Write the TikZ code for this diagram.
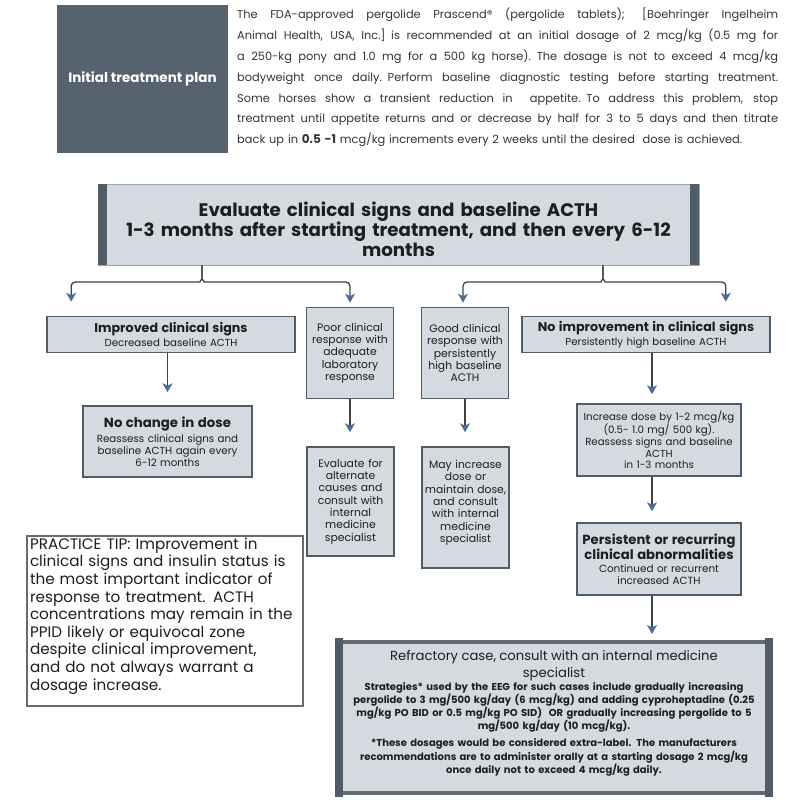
\documentclass[tikz,border=0pt]{standalone}
\usepackage{fontspec}
\setmainfont{Poppins}
\usepackage{xcolor}
\definecolor{planslate}{HTML}{56636F}
\definecolor{boxfill}{HTML}{D4DAE0}
\definecolor{boxedge}{HTML}{505C67}
\definecolor{tipblue}{HTML}{4D6C9E}
\definecolor{linegray}{HTML}{3E4348}
\definecolor{textdark}{HTML}{1E1E1E}
\usetikzlibrary{arrows.meta}
\newcommand{\parline}[1]{{\spaceskip=\fontdimen2\font plus 2em\relax\makebox[541pt][s]{#1}}}
\tikzset{
  flowbox/.style={
    rectangle, draw=boxedge, line width=1.6pt, fill=boxfill,
    align=center, inner sep=1pt, text=textdark,
    font=\fontsize{10.2}{12}\selectfont
  },
  widebox/.style={flowbox, minimum width=248pt, minimum height=36pt, text width=244pt},
  narrowbox/.style={flowbox, minimum width=87pt, text width=85pt,
    font=\fontsize{10.8}{12.3}\selectfont},
  stepbox/.style={flowbox, minimum width=164pt, minimum height=72pt, text width=160pt},
  flowarrow/.style={
    draw=linegray, line width=1.3pt,
    -{Stealth[length=9pt,width=10pt,inset=2.5pt,color=tipblue]}
  },
  brace/.style={flowarrow, rounded corners=4pt}
}

\begin{document}
\begin{tikzpicture}[x=1pt,y=-1pt]
  \useasboundingbox (0,0) rectangle (800,800);
  \fill[white] (0,0) rectangle (800,800);

  % Initial plan header
  \node[fill=planslate, minimum width=171pt, minimum height=148pt,
        text=white, font=\fontsize{13.5}{15}\selectfont\bfseries] (plan) at (142.5,79)
  {Initial treatment plan};

  \node[anchor=north west, inner sep=0pt, text width=541pt, align=left,
        text=textdark!90, font=\fontsize{11.4}{20.8}\selectfont] (intro) at (237,8)
  {\parline{The FDA-approved pergolide Prascend® (pergolide tablets); [Boehringer Ingelheim}\\
   \parline{Animal Health, USA, Inc.] is recommended at an initial dosage of 2 mcg/kg (0.5 mg for}\\
   \parline{a 250-kg pony and 1.0 mg for a 500 kg horse). The dosage is not to exceed 4 mcg/kg}\\
   \parline{bodyweight once daily. Perform baseline diagnostic testing before starting treatment.}\\
   \parline{Some horses show a transient reduction in \ appetite. To address this problem, stop}\\
   \parline{treatment until appetite returns and or decrease by half for 3 to 5 days and then titrate}\\
   back up in {\bfseries\fontsize{12}{20.8}\selectfont 0.5 -1} mcg/kg increments every 2 weeks until the desired \ dose is achieved.};

  % Evaluate box
  \node[flowbox, draw=boxedge!55, line width=0.8pt, minimum width=601pt,
        minimum height=81pt, text width=590pt,
        font=\fontsize{18.2}{20}\selectfont\bfseries] (eval) at (398.5,224.5)
  {\rule{0pt}{25pt}Evaluate clinical signs and baseline ACTH\\
   1-3 months after starting treatment, and then every 6-12\\
   months};
  \fill[boxedge] (eval.north west) rectangle ([xshift=9pt]eval.south west);
  \fill[boxedge] (eval.north east) rectangle ([xshift=-9pt]eval.south east);

  % First row
  \node[widebox] (improved) at (171,334.5)
  {{\fontsize{12.7}{12}\selectfont\bfseries Improved clinical signs}\\[2pt]
   Decreased baseline ACTH};

  \node[narrowbox, minimum height=91pt] (poorresp) at (350,353)
  {Poor clinical\\ response with\\ adequate\\ laboratory\\ response};

  \node[narrowbox, minimum height=91pt] (goodresp) at (465,353)
  {Good clinical\\ response with\\ persistently\\ high baseline\\ ACTH};

  \node[widebox] (noimprov) at (646,334.5)
  {{\fontsize{12.7}{12}\selectfont\bfseries No improvement in clinical signs}\\[2pt]
   Persistently high baseline ACTH};

  % Second row
  \node[flowbox, minimum width=169pt, minimum height=71pt, text width=165pt,
        font=\fontsize{10.3}{12}\selectfont] (nochange) at (167.5,441.5)
  {{\fontsize{13.3}{12}\selectfont\bfseries No change in dose}\\[3pt]
   Reassess clinical signs and\\ baseline ACTH again every\\ 6-12 months};

  \node[narrowbox, minimum height=109pt] (altcause) at (350.5,501.5)
  {Evaluate for\\ alternate\\ causes and\\ consult with\\ internal\\ medicine\\ specialist};

  \node[narrowbox, minimum height=121pt] (mayinc) at (465.5,507.5)
  {May increase\\ dose or\\ maintain dose,\\ and consult\\ with internal\\ medicine\\ specialist\\ \mbox{}};

  \node[stepbox, font=\fontsize{10.2}{11.7}\selectfont] (incdose) at (659,440)
  {Increase dose by 1-2 mcg/kg\\ (0.5- 1.0 mg/ 500 kg).\\ Reassess signs and baseline\\ ACTH\\ in 1-3 months};

  \node[stepbox, font=\fontsize{10.4}{12}\selectfont] (persist) at (659,559)
  {{\fontsize{13.2}{17}\selectfont\bfseries Persistent or recurring\\ clinical abnormalities}\\[1pt]
   Continued or recurrent\\ increased ACTH};

  % Refractory box
  \node[flowbox, draw=boxedge!90, line width=4pt, minimum width=430pt,
        minimum height=151pt, text width=416pt,
        font=\fontsize{10}{11.5}\selectfont\bfseries] (refract) at (554,717.5)
  {{\fontsize{13.2}{15}\mdseries\selectfont Refractory case, consult with an internal medicine\\[2.5pt] specialist}\\[1.5pt]
   Strategies* used by the EEG for such cases include gradually increasing\\
   pergolide to 3 mg/500 kg/day (6 mcg/kg) and adding cyproheptadine (0.25\\
   mg/kg PO BID or 0.5 mg/kg PO SID) \ OR gradually increasing pergolide to 5\\
   mg/500 kg/day (10 mcg/kg).\\[5.5pt]
   *These dosages would be considered extra-label. The manufacturers\\
   recommendations are to administer orally at a starting dosage 2 mcg/kg\\
   once daily not to exceed 4 mcg/kg daily.\\ \mbox{}};
  \fill[boxedge] ([xshift=-2pt,yshift=2pt]refract.north west) rectangle ([xshift=6pt,yshift=-2pt]refract.south west);
  \fill[boxedge] ([xshift=2pt,yshift=2pt]refract.north east) rectangle ([xshift=-6pt,yshift=-2pt]refract.south east);

  % Practice tip
  \node[draw=boxedge!90, line width=1.5pt, fill=white, minimum width=276pt,
        minimum height=168pt, text width=270pt, align=left, inner sep=2pt,
        text=textdark, font=\fontsize{15.2}{17.6}\selectfont] (tip) at (165,621)
  {PRACTICE TIP: Improvement in\\
   clinical signs and insulin status is\\
   the most important indicator of\\
   response to treatment. ACTH\\
   concentrations may remain in the\\
   PPID likely or equivocal zone\\
   despite clinical improvement,\\
   and do not always warrant a\\
   dosage increase.\rule[-14pt]{0pt}{1pt}};

  % Braces under the evaluate box
  \coordinate (lcusp) at (202,265);
  \coordinate (rcusp) at (603,265);
  \coordinate (colx) at (652,0);

  \draw[brace, shorten >=14pt] (lcusp) -- ++(0,10) to[out=-90,in=0] ++(-6,7)
    -| ([xshift=25pt]improved.north west);
  \draw[brace, shorten >=4pt] (lcusp) -- ++(0,10) to[out=-90,in=180] ++(6,7)
    -| (poorresp.north);
  \draw[brace, shorten >=4pt] (rcusp) -- ++(0,10) to[out=-90,in=0] ++(-6,7)
    -| ([xshift=-2pt]goodresp.north);
  \draw[brace, shorten >=14pt] (rcusp) -- ++(0,10) to[out=-90,in=180] ++(6,7)
    -| ([xshift=-45pt]noimprov.north east);

  % Vertical arrows
  \draw[flowarrow, shorten >=13pt] (improved.south -| nochange.north) -- (nochange.north);
  \draw[flowarrow, shorten >=14pt] (poorresp.south) -- (poorresp.south |- altcause.north);
  \draw[flowarrow, shorten >=14pt] (goodresp.south) -- (goodresp.south |- mayinc.north);
  \draw[flowarrow, shorten >=9pt] (noimprov.south -| colx) -- (incdose.north -| colx);
  \draw[flowarrow, shorten >=11pt] (incdose.south -| colx) -- (persist.north -| colx);
  \draw[flowarrow, shorten >=6pt] (persist.south -| colx) -- (refract.north -| colx);

\end{tikzpicture}
\end{document}
